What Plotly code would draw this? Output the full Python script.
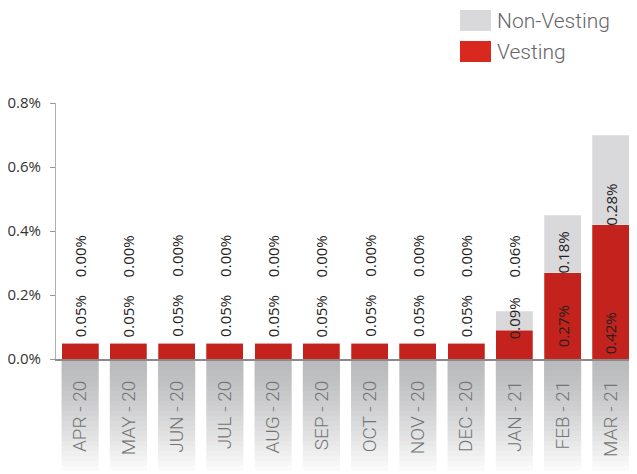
import plotly.graph_objects as go

categories = ["APR - 20", "MAY - 20", "JUN - 20", "JUL - 20", "AUG - 20", "SEP - 20",
              "OCT - 20", "NOV - 20", "DEC - 20", "JAN - 21", "FEB - 21", "MAR - 21"]
vesting = [0.05, 0.05, 0.05, 0.05, 0.05, 0.05, 0.05, 0.05, 0.05, 0.09, 0.27, 0.42]
non_vesting = [0.00, 0.00, 0.00, 0.00, 0.00, 0.00, 0.00, 0.00, 0.00, 0.06, 0.18, 0.28]
y_ticks = [0.0, 0.2, 0.4, 0.6, 0.8]

RED = "#c4221c"
RED_LEG = "#d9291e"
GREY = "#d9d9db"
BAR_GAP = 0.23
LABEL_FONT = dict(family="Open Sans", size=15, color="#222222")

# page body has an 8px margin -> figure origin sits at (8, 8)
OFF = 8
W, H = 637 - OFF, 474 - OFF
ML, MR, MT = 56 - OFF, 2, 103 - OFF
PLOT_H = 256.0
MB = H - MT - int(PLOT_H)
PLOT_W = float(W - ML - MR)
PLOT_LEFT = ML + OFF      # absolute px
PLOT_BOTTOM = MT + OFF + PLOT_H

fig = go.Figure()
fig.add_trace(go.Bar(x=categories, y=vesting, name="Vesting",
                     marker=dict(color=RED, line=dict(color="rgba(255,255,255,0.5)", width=0.5)),
                     showlegend=False, hoverinfo="x+y"))
fig.add_trace(go.Bar(x=categories, y=non_vesting, name="Non-Vesting",
                     marker=dict(color=GREY, line=dict(color="rgba(255,255,255,0.5)", width=0.5)),
                     showlegend=False, hoverinfo="x+y"))

annotations = []
for c, v, n in zip(categories, vesting, non_vesting):
    base_v = max(0.07 - 0.15 * v, 0.008)
    annotations.append(dict(x=c, y=base_v, xref="x", yref="y", text=f"{v:.2f}%",
                            textangle=-90, showarrow=False, xanchor="center", yanchor="bottom",
                            font=LABEL_FONT))
    base_n = max(v - 0.01, 0.25)
    annotations.append(dict(x=c, y=base_n, xref="x", yref="y", text=f"{n:.2f}%",
                            textangle=-90, showarrow=False, xanchor="center", yanchor="bottom",
                            font=LABEL_FONT))

# gradient panels behind the category labels
shapes = []
n_slices = 23
slice_px = 5
half_w = (1 - BAR_GAP) / 2
top_rgb = (186, 187, 189)
for i in range(len(categories)):
    for k in range(n_slices):
        t = (k / (n_slices - 1)) ** 1.3
        col = tuple(int(round(top_rgb[j] + (255 - top_rgb[j]) * t)) for j in range(3))
        shapes.append(dict(type="rect", xref="x", yref="paper", layer="below",
                           x0=i - half_w, x1=i + half_w,
                           y0=-(2 + k * slice_px) / PLOT_H, y1=-(2 + (k + 1) * slice_px) / PLOT_H,
                           fillcolor="rgb(%d,%d,%d)" % col, line=dict(width=0)))

# legend drawn manually (large swatches), positions in absolute px converted to paper
def px_x(x):
    return (x - PLOT_LEFT) / PLOT_W

def px_y(y):
    return (PLOT_BOTTOM - y) / PLOT_H

legend_items = [("Non-Vesting", GREY), ("Vesting", RED_LEG)]
for idx, (label, col) in enumerate(legend_items):
    y_top = 10 + idx * 31
    shapes.append(dict(type="rect", xref="paper", yref="paper",
                       x0=px_x(460), x1=px_x(491),
                       y0=px_y(y_top), y1=px_y(y_top + 21),
                       fillcolor=col, line=dict(width=0)))
    annotations.append(dict(x=px_x(495), y=px_y(y_top + 10.5),
                            xref="paper", yref="paper", text=label, showarrow=False,
                            xanchor="left", yanchor="middle",
                            font=dict(family="Roboto", size=21, color="#666666", weight=300)))

fig.update_layout(
    barmode="stack",
    bargap=BAR_GAP,
    width=W, height=H,
    margin=dict(l=ML, r=MR, t=MT, b=MB, autoexpand=False),
    plot_bgcolor="white", paper_bgcolor="white",
    showlegend=False,
    annotations=annotations,
    shapes=shapes,
    xaxis=dict(type="category", tickangle=-90, ticks="", showline=True,
               linecolor="#8a8a8a", linewidth=2, showgrid=False,
               ticklabelstandoff=12,
               tickfont=dict(family="Roboto", size=19, color="#747474", weight=300)),
    yaxis=dict(range=[0, 0.8], tickvals=y_ticks,
               ticktext=[f"{t:.1f}%" for t in y_ticks],
               ticks="outside", ticklen=5, tickcolor="#9a9a9a",
               showline=True, linecolor="#b0b0b0", linewidth=1,
               showgrid=False, zeroline=False, ticklabelstandoff=6,
               tickfont=dict(family="Open Sans", size=15, color="#333333")),
)

fig.write_html("out.html")
